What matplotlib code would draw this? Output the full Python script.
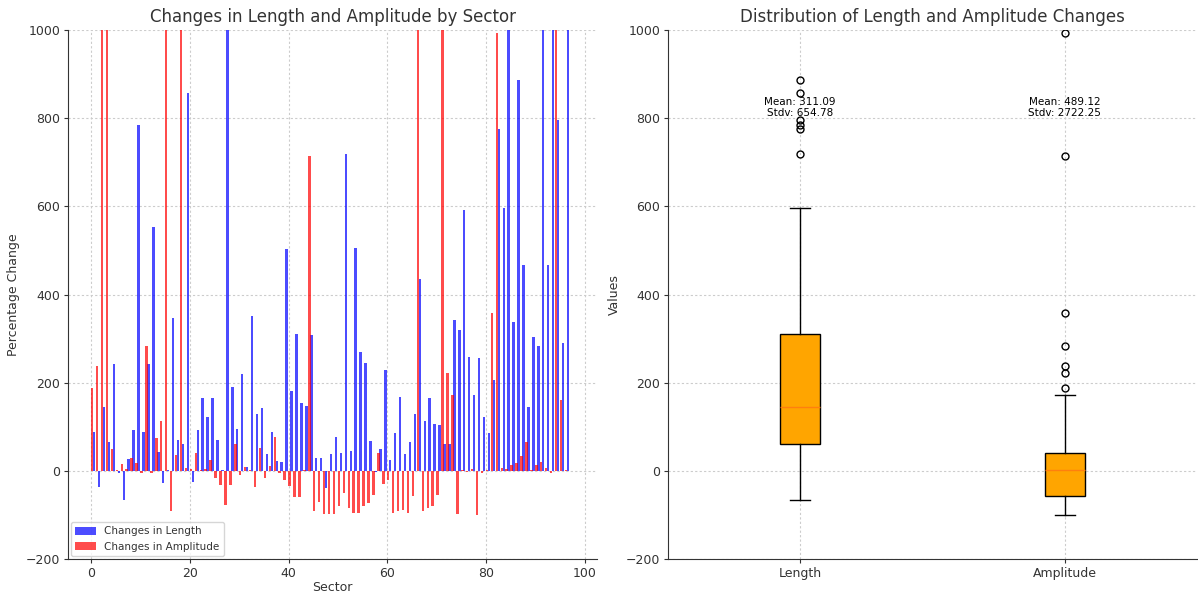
import numpy as np
import matplotlib
matplotlib.use("Agg")
import matplotlib.pyplot as plt

# ---------------- data ----------------
sectors = np.arange(97)

length_change = [87, -37, 145, 66, 243, -5, -66, 26, 92, 785,
                 87, 243, 553, 43, -28, 2, 346, 70, 60, 858,
                 -25, 92, 166, 122, 166, 71, 3, 1300, 190, 95,
                 220, 8, 352, 130, 142, 38, 89, 22, 20, 503,
                 180, 311, 153, 148, 308, 28, 30, -40, 38, 76,
                 40, 718, 45, 505, 270, 245, 68, -3, 50, 228,
                 25, 85, 168, 38, 65, 128, 435, 113, 166, 107,
                 103, 60, 62, 342, 320, 591, 259, 172, 255, 121,
                 85, 206, 775, 597, 2220, 338, 887, 466, 145, 303,
                 283, 1052, 466, 5780, 795, 291, 1200]

amplitude_change = [189, 238, 25000, 1500, 50, 2, 15, 5, 28, 18,
                    -5, 283, -5, 75, 113, 3000, -92, 35, 2000, 6,
                    5, 40, 2, 5, 25, -17, -33, -77, -33, 60,
                    -10, 8, 2, -37, 52, -16, 12, 77, -5, -21,
                    -35, -60, -60, 2, 715, -90, -70, -98, -98, -98,
                    -80, -50, -85, -95, -95, -80, -72, -55, 40, -30,
                    -20, -95, -90, -88, -95, -58, 8000, -90, -85, -80,
                    -55, 5113, 221, 172, -97, 2, -3, 4, -100, -5,
                    2, 358, 993, 6, 5, 14, 18, 34, 66, 2,
                    13, 20, 6, -5, 1200, 160, 2]

box_labels = ["Length", "Amplitude"]
stat_means = [311.09, 489.12]
stat_stds = [654.78, 2722.25]

# ---------------- style ----------------
txt = "#333333"
plt.rcParams.update({
    "font.family": "DejaVu Sans",
    "font.size": 9,
    "text.color": txt,
    "axes.labelcolor": txt,
    "xtick.color": txt,
    "ytick.color": txt,
    "xtick.labelsize": 9,
    "ytick.labelsize": 9,
    "axes.labelsize": 9,
    "axes.edgecolor": txt,
    "xtick.major.size": 3,
    "ytick.major.size": 3,
    "xtick.major.pad": 2.5,
    "ytick.major.pad": 2.5,
})

W, H = 1198, 595
fig = plt.figure(figsize=(W / 100, H / 100), dpi=100)
ax1 = fig.add_axes([68 / W, 36 / H, 529 / W, 529 / H])
ax2 = fig.add_axes([668 / W, 36 / H, 529 / W, 529 / H])

grid_kw = dict(linestyle=(0, (2, 2)), color="#cccccc", linewidth=0.8)

# ---------------- left: bar chart ----------------
x = np.asarray(sectors)
ax1.bar(x + 0.6, length_change, width=0.5, color="blue", alpha=0.7,
        label="Changes in Length")
ax1.bar(x + 0.2, amplitude_change, width=0.5, color="red", alpha=0.7,
        label="Changes in Amplitude")
ax1.set_ylim(-200, 1000)
ax1.set_xlim(-4.7, 102.5)
ax1.set_xticks([0, 20, 40, 60, 80, 100])
ax1.set_title("Changes in Length and Amplitude by Sector", fontsize=12, color=txt)
ax1.set_xlabel("Sector", labelpad=1)
ax1.set_ylabel("Percentage Change")
ax1.legend(loc="lower left", fontsize=7.5, borderaxespad=0.3)
ax1.grid(True, **grid_kw)
ax1.set_axisbelow(True)

# ---------------- right: box plot ----------------
bp = ax2.boxplot([length_change, amplitude_change], positions=[1, 2], widths=0.15,
                 patch_artist=True,
                 boxprops=dict(facecolor="orange", edgecolor="black"),
                 medianprops=dict(color="#ff7f0e"),
                 whiskerprops=dict(color="black"),
                 capprops=dict(color="black"),
                 flierprops=dict(marker="o", markerfacecolor="none",
                                 markeredgecolor="black", markersize=5))
ax2.set_xticks([1, 2])
ax2.set_xticklabels(box_labels)
ax2.set_xlim(0.5, 2.5)
ax2.set_ylim(-200, 1000)
ax2.set_title("Distribution of Length and Amplitude Changes", fontsize=12, color=txt)
ax2.set_ylabel("Values")
ax2.grid(True, **grid_kw)
ax2.set_axisbelow(True)
for pos, m, s in zip([1, 2], stat_means, stat_stds):
    ax2.text(pos, 800, f"Mean: {m:.2f}\nStdv: {s:.2f}", ha="center", va="bottom",
             fontsize=7.5, color="black", linespacing=1.1)

for ax in (ax1, ax2):
    ax.spines["top"].set_visible(False)
    ax.spines["right"].set_visible(False)

fig.savefig("out.png", dpi=100)
